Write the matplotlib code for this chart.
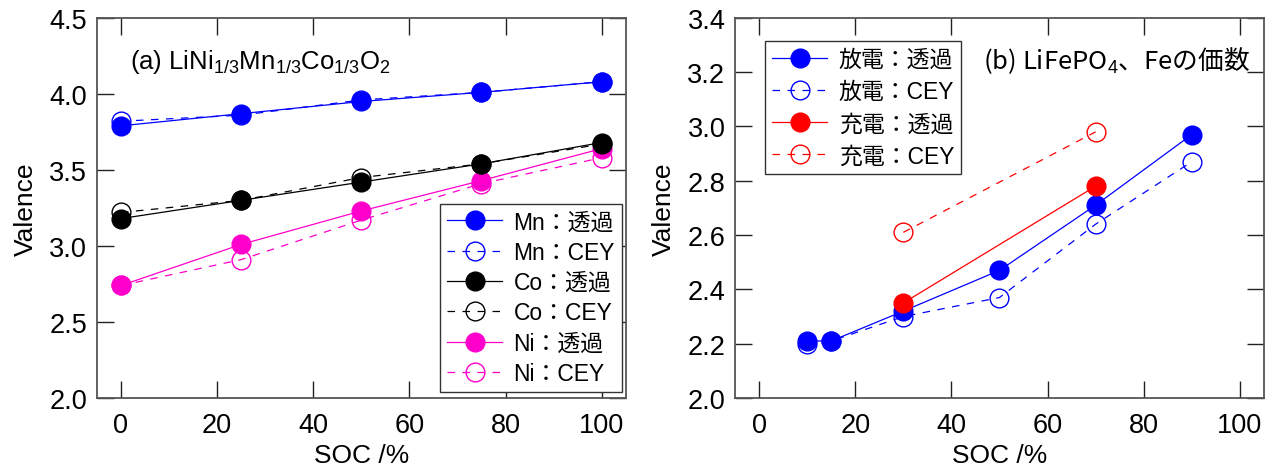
import matplotlib
matplotlib.use("Agg")
import matplotlib.pyplot as plt

plt.rcParams['font.family'] = ['Liberation Sans', 'Noto Sans CJK JP']
plt.rcParams['mathtext.fontset'] = 'custom'
plt.rcParams['mathtext.rm'] = 'Liberation Sans'
plt.rcParams['mathtext.it'] = 'Liberation Sans'

# (a) LiNi1/3Mn1/3Co1/3O2
soc_a = [0, 25, 50, 75, 100]
mn_tr = [3.79, 3.87, 3.95, 4.01, 4.08]
mn_cey = [3.82, 3.86, 3.96, 4.01, 4.08]
co_tr = [3.18, 3.30, 3.42, 3.54, 3.68]
co_cey = [3.22, 3.30, 3.45, 3.54, 3.67]
ni_tr = [2.74, 3.01, 3.23, 3.43, 3.64]
ni_cey = [2.74, 2.91, 3.17, 3.41, 3.58]

# (b) LiFePO4
soc_dis = [10, 15, 30, 50, 70, 90]
dis_tr = [2.21, 2.21, 2.32, 2.47, 2.71, 2.97]
dis_cey = [2.20, 2.21, 2.30, 2.37, 2.64, 2.87]
soc_chg = [30, 70]
chg_tr = [2.35, 2.78]
chg_cey = [2.61, 2.98]

BLUE = '#0000ff'
MAG = '#ff00cc'
RED = '#ff0000'
MS = 13.5
DASH = (0, (6, 6))

fig = plt.figure(figsize=(12.74, 4.77), dpi=100)
ax1 = fig.add_axes([0.0761, 0.1635, 0.415, 0.797])
ax2 = fig.add_axes([0.577, 0.1635, 0.415, 0.797])


def style(ax, ylim, yticks):
    ax.set_xlim(-5, 105)
    ax.set_ylim(*ylim)
    ax.set_xticks([0, 20, 40, 60, 80, 100])
    ax.set_yticks(yticks)
    ax.set_yticklabels([f"{v:.1f}" for v in yticks])
    ax.tick_params(direction='in', length=12.5, width=1.0, color='#222222',
                   top=True, right=True, labelsize=19.5)
    ax.tick_params(axis='x', pad=10)
    ax.tick_params(axis='y', pad=7)
    for s in ax.spines.values():
        s.set_color('#555555')
        s.set_linewidth(1.3)
    ax.set_xlabel("SOC /%", fontsize=19, labelpad=4)
    ax.set_ylabel("Valence", fontsize=19, labelpad=8)


def solid(ax, x, y, c, lab, z):
    return ax.plot(x, y, '-', color=c, lw=0.9, marker='o', ms=MS,
                   mfc=c, mec=c, label=lab, zorder=z)[0]


def dashed(ax, x, y, c, lab, z):
    return ax.plot(x, y, color=c, lw=0.9, ls=DASH, marker='o', ms=MS,
                   mfc='none', mec=c, mew=1.0, label=lab, zorder=z)[0]


h_ni_c = dashed(ax1, soc_a, ni_cey, MAG, "Ni：CEY", 2)
h_ni_t = solid(ax1, soc_a, ni_tr, MAG, "Ni：透過", 3)
h_co_c = dashed(ax1, soc_a, co_cey, 'black', "Co：CEY", 4)
h_co_t = solid(ax1, soc_a, co_tr, 'black', "Co：透過", 5)
h_mn_c = dashed(ax1, soc_a, mn_cey, BLUE, "Mn：CEY", 6)
h_mn_t = solid(ax1, soc_a, mn_tr, BLUE, "Mn：透過", 7)

style(ax1, (2.0, 4.5), [2.0, 2.5, 3.0, 3.5, 4.0, 4.5])
leg1 = ax1.legend(handles=[h_mn_t, h_mn_c, h_co_t, h_co_c, h_ni_t, h_ni_c],
                  loc='lower right', bbox_to_anchor=(0.993, 0.016),
                  borderaxespad=0, fontsize=16.5, handlelength=2.4,
                  handletextpad=0.5, labelspacing=0.32, borderpad=0.3,
                  fancybox=False, framealpha=1, edgecolor='#333333')
leg1.get_frame().set_linewidth(1.0)
ax1.text(0.063, 0.887, r"(a) LiNi$_{1/3}$Mn$_{1/3}$Co$_{1/3}$O$_2$",
         transform=ax1.transAxes, fontsize=18.5, va='center', ha='left')

h1 = solid(ax2, soc_dis, dis_tr, BLUE, "放電：透過", 4)
h2 = dashed(ax2, soc_dis, dis_cey, BLUE, "放電：CEY", 3)
h3 = solid(ax2, soc_chg, chg_tr, RED, "充電：透過", 6)
h4 = dashed(ax2, soc_chg, chg_cey, RED, "充電：CEY", 5)

style(ax2, (2.0, 3.4), [2.0, 2.2, 2.4, 2.6, 2.8, 3.0, 3.2, 3.4])
leg2 = ax2.legend(handles=[h1, h2, h3, h4], loc='upper left',
                  bbox_to_anchor=(0.057, 0.939), borderaxespad=0,
                  fontsize=16.5, handlelength=2.4, handletextpad=0.5,
                  labelspacing=0.4, borderpad=0.3, fancybox=False,
                  framealpha=1, edgecolor='#333333')
leg2.get_frame().set_linewidth(1.0)
ax2.text(0.469, 0.889, r"(b) LiFePO$_4$、Feの価数",
         transform=ax2.transAxes, fontsize=18.5, va='center', ha='left',
         family=['Noto Sans CJK JP', 'DejaVu Sans'])

fig.savefig("out.png", dpi=100)
